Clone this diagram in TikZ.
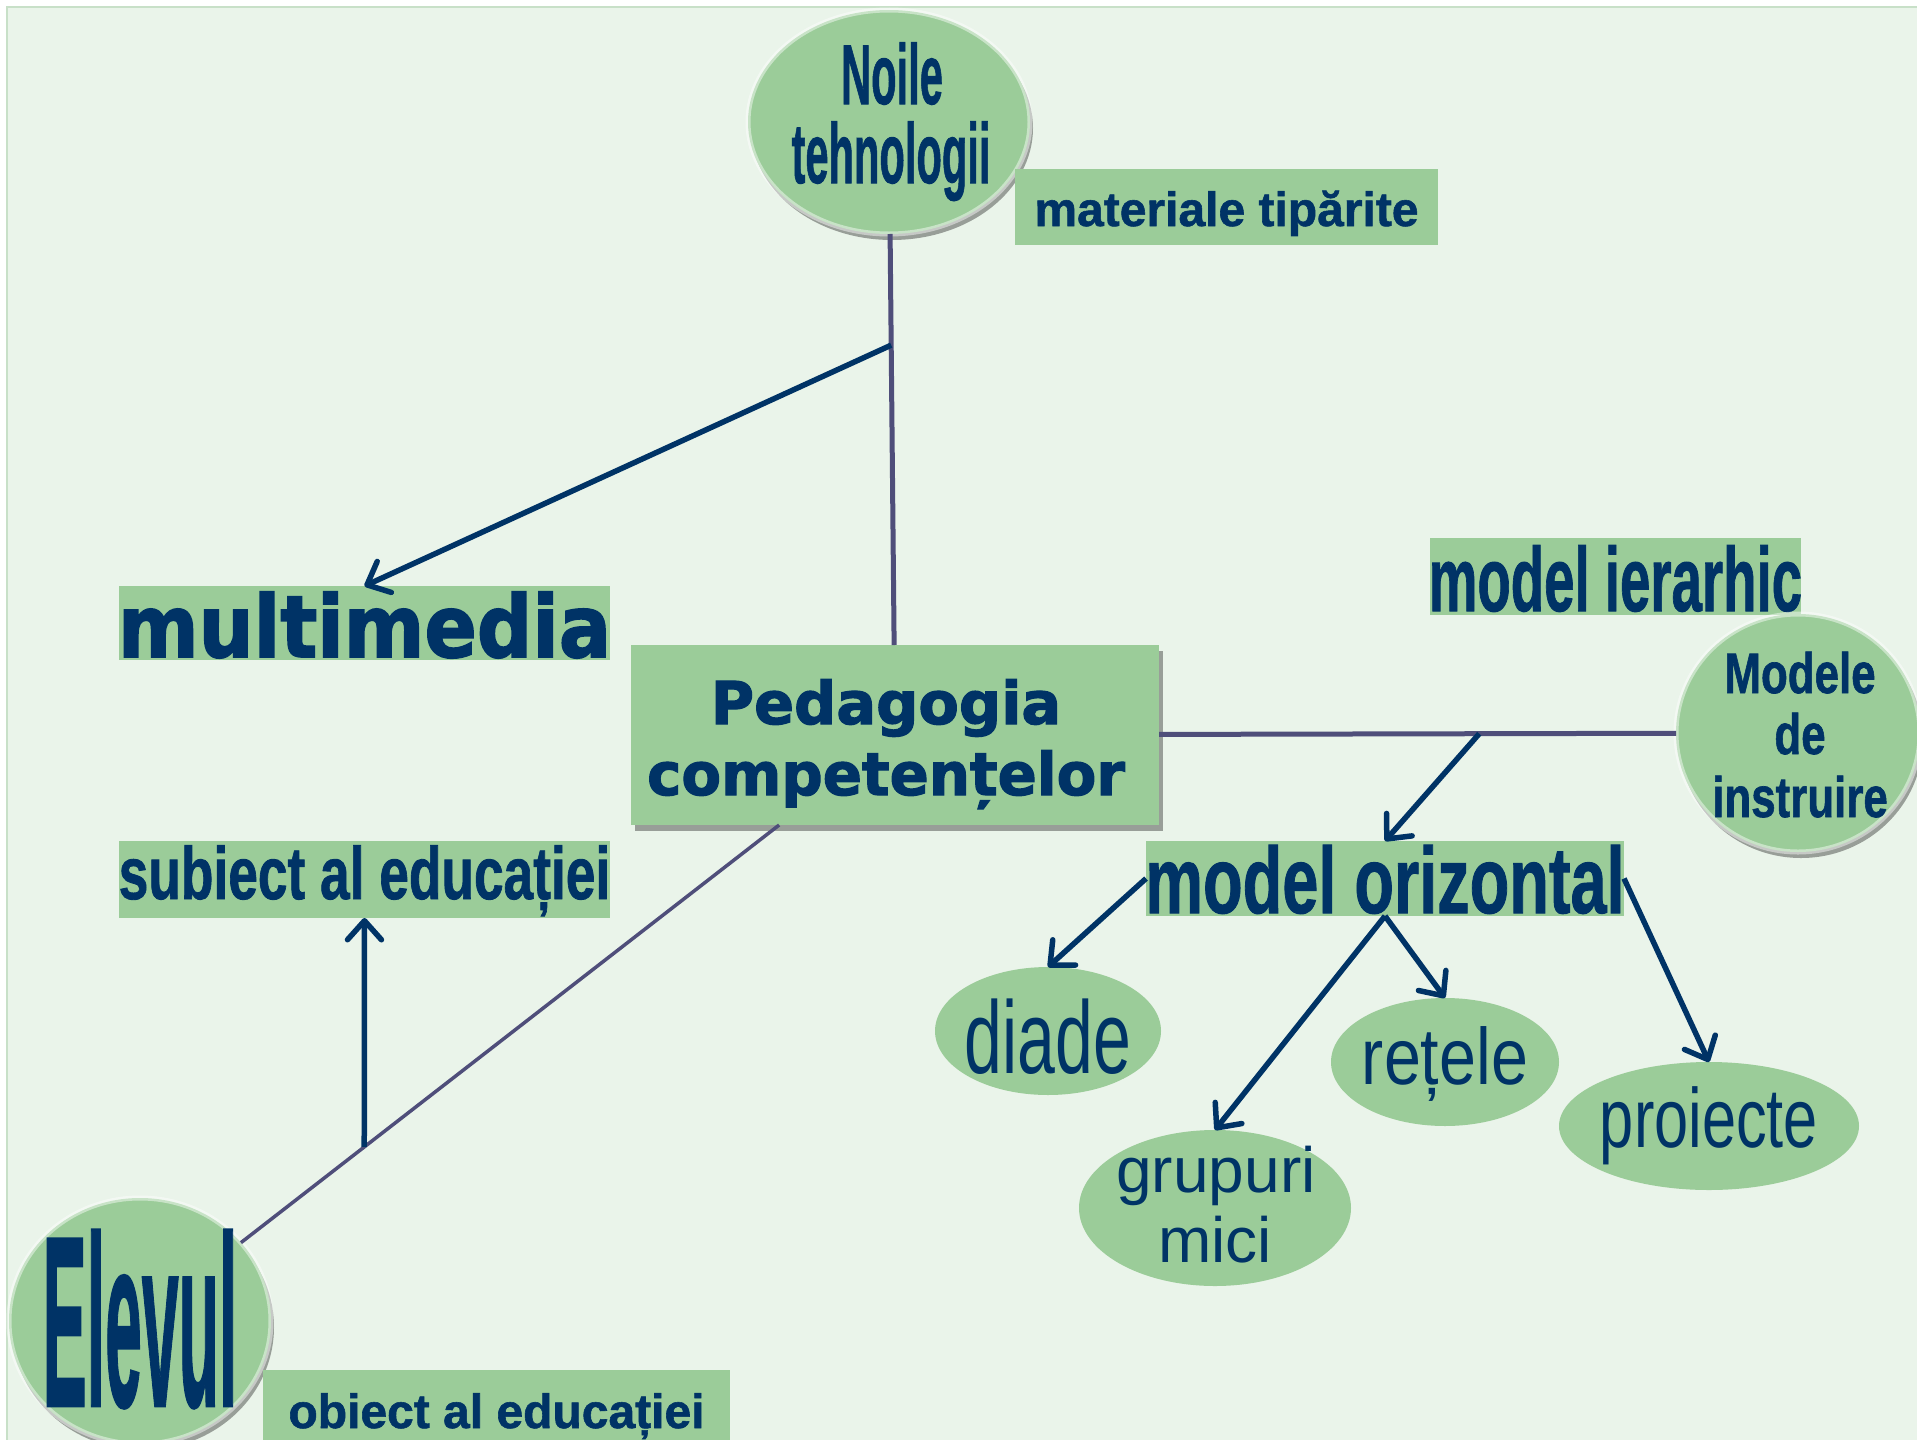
\documentclass[tikz,border=0pt]{standalone}
\usepackage{graphicx}
\usepackage{fontspec}
\setmainfont{Liberation Sans}[BoldFeatures={FakeBold=1.2}]
\newfontfamily\dv{DejaVu Sans}[BoldFeatures={FakeBold=2}]
\usetikzlibrary{shapes.geometric,arrows.meta,shadows,calc}

\definecolor{bg}{HTML}{EAF4EA}
\definecolor{gfill}{HTML}{9BCC99}
\definecolor{navy}{HTML}{003366}
\definecolor{lnc}{HTML}{4F4E7A}
\definecolor{framec}{HTML}{C8E0C8}

\newcommand{\tx}[3]{\makebox[0pt]{\scalebox{#1}[1]{\fontsize{#2pt}{#2pt}\selectfont #3}}}

\begin{document}
\begin{tikzpicture}[x=1pt,y=-1pt,
  lbl/.style={fill=gfill, inner sep=0pt, outer sep=0pt, text=navy, text depth=0pt},
  ball/.style={ellipse, fill=gfill, inner sep=0pt, outer sep=0pt, text=navy, text depth=0pt,
    drop shadow={shadow xshift=3pt, shadow yshift=-6pt, opacity=0.35, fill=black},
    postaction={draw=white, draw opacity=0.45, line width=5pt}},
  oval/.style={ellipse, fill=gfill, inner sep=0pt, outer sep=0pt, text=navy, text depth=0pt},
  conn/.style={draw=lnc, line width=5pt},
  arr/.style={draw=navy, line width=5.5pt, -{Straight Barb[length=19pt,width=34pt,round]}},
  tline/.style={anchor=base, inner sep=0pt, text=navy},
]
\useasboundingbox (0,0) rectangle (1917,1440);
\clip (0,0) rectangle (1917,1440);
\fill[white] (0,0) rectangle (1917,1440);
\fill[bg] (7,7) rectangle (1917,1440);
\draw[framec, line width=2pt] (7,1440) -- (7,7) -- (1917,7);

% Noile tehnologii
\node[ball, minimum width=282pt, minimum height=224pt] (noile) at (889,122) {};
\node[tline] (noile1) at (892,104) {\tx{0.49}{85}{\bfseries Noile}};
\node[tline] (noile2) at (891,183) {\tx{0.49}{85}{\bfseries tehnologii}};

\node[lbl, minimum width=423pt, minimum height=76pt, text height=38pt] (mat) at (1226.5,207)
  {\tx{1}{48}{\bfseries materiale tipărite}};

% multimedia
\node[lbl, minimum width=491pt, minimum height=74pt, text height=68pt] (mm) at (364.5,623)
  {\tx{0.9}{86}{\dv\bfseries multimedia}};

% Pedagogia competentelor
\node[lbl, minimum width=528pt, minimum height=180pt,
  drop shadow={shadow xshift=4pt, shadow yshift=-6pt, opacity=0.35, fill=black}] (ped) at (895,735) {};
\node[tline] (ped1) at (886,724) {\tx{1}{59}{\dv\bfseries Pedagogia}};
\node[tline] (ped2) at (886,795) {\tx{0.98}{59}{\dv\bfseries competențelor}};

% subiect
\node[lbl, minimum width=491pt, minimum height=77pt, text height=39pt] (subj) at (364.5,879.5)
  {\tx{0.72}{74}{\bfseries subiect al educației}};

% model ierarhic
\node[lbl, minimum width=371pt, minimum height=77pt, text height=69pt] (mi) at (1615.5,576.5)
  {\tx{0.60}{91}{\bfseries model ierarhic}};

% Modele de instruire
\node[ball, minimum width=244pt, minimum height=238pt] (modele) at (1798,733) {};
\node[tline] (mod1) at (1800,693) {\tx{0.77}{57}{\bfseries Modele}};
\node[tline] (mod2) at (1800,754) {\tx{0.77}{57}{\bfseries de}};
\node[tline] (mod3) at (1800,817) {\tx{0.77}{57}{\bfseries instruire}};

% model orizontal
\node[lbl, minimum width=478pt, minimum height=75pt, text height=69pt] (mo) at (1385,878.5)
  {\tx{0.69}{94}{\bfseries model orizontal}};

% Elevul
\node[ball, minimum width=262pt, minimum height=246pt, text height=170pt] (elev) at (140,1321)
  {\tx{0.272}{243}{\bfseries Elevul}};

\node[lbl, minimum width=467pt, minimum height=90pt, text height=26pt] (obj) at (496.5,1415)
  {\tx{1}{48}{\bfseries obiect al educației}};

% small ovals
\node[oval, minimum width=226pt, minimum height=128pt, text height=84pt] (diade) at (1048,1031)
  {\tx{0.66}{103}{diade}};
\node[oval, minimum width=228pt, minimum height=128pt, text height=44pt] (ret) at (1445,1062)
  {\tx{0.83}{80}{rețele}};
\node[oval, minimum width=300pt, minimum height=128pt, text height=42pt] (proi) at (1709,1126)
  {\tx{0.73}{84}{proiecte}};
\node[oval, minimum width=272pt, minimum height=156pt] (grup) at (1215,1208) {};
\node[tline] (grup1) at (1216,1192) {\tx{1}{64}{grupuri}};
\node[tline] (grup2) at (1215,1262) {\tx{1}{64}{mici}};

% connectors
\draw[conn] (noile) -- (ped);
\draw[conn] (ped) -- (modele);
\draw[conn, line width=3.5pt] (ped) -- (elev);
\coordinate (j1) at ($(noile)!0.364!(ped)$);
\coordinate (j2) at ($(ped)!0.647!(modele)$);
\coordinate (j3) at ($(ped)!0.703!(elev)$);
\draw[arr] (j1) -- (mm.north);
\draw[arr] (j2) -- (mo.north);
\draw[arr] (j3) -- (subj.south);
\draw[arr] (mo.west) -- (diade.north);
\draw[arr] (mo.south) -- (grup.north);
\draw[arr] (mo.south) -- (ret.north);
\draw[arr] (mo.east) -- (proi.north);
\end{tikzpicture}
\end{document}
